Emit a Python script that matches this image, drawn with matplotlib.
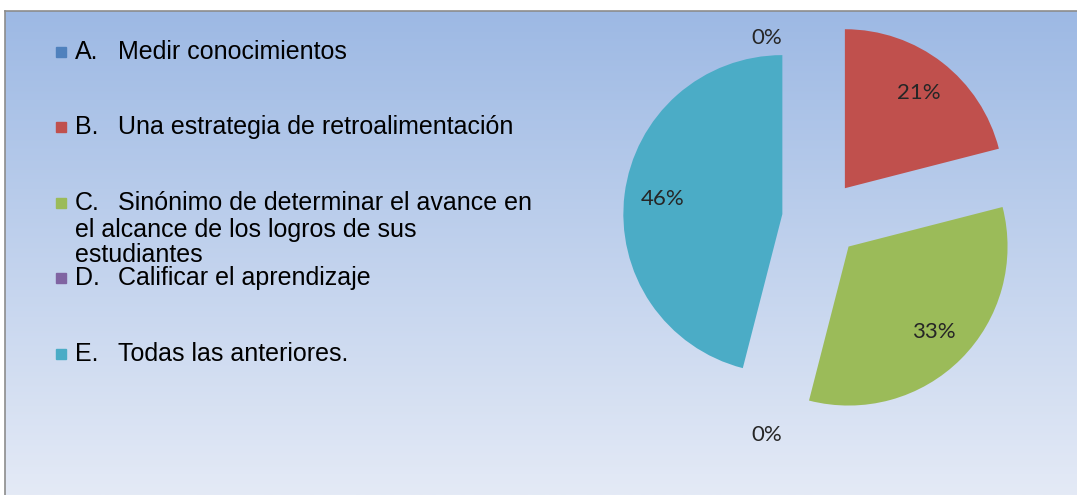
import numpy as np
import matplotlib.pyplot as plt
from matplotlib.patches import Rectangle

letters = ["A.", "B.", "C.", "D.", "E."]
answers = [
    "Medir conocimientos",
    "Una estrategia de retroalimentación",
    "Sinónimo de determinar el avance en\nel alcance de los logros de sus\nestudiantes",
    "Calificar el aprendizaje",
    "Todas las anteriores.",
]
percents = [0, 21, 33, 0, 46]
colors = ["#4f81bd", "#c0504d", "#9bbb59", "#8064a2", "#4bacc6"]

W, H = 1077, 495
fig = plt.figure(figsize=(W / 100, H / 100), dpi=100, facecolor="white")

# gradient background panel
bg = fig.add_axes([5 / W, 0, (W - 5) / W, (H - 11) / H])
grad = np.linspace(0, 1, 256).reshape(-1, 1)
top = np.array([157, 185, 228]) / 255
bot = np.array([228, 234, 246]) / 255
img = top + (bot - top) * grad[:, :, None]
bg.imshow(img, aspect="auto", extent=[0, 1, 0, 1], origin="upper")
bg.set_xticks([])
bg.set_yticks([])
for s in bg.spines.values():
    s.set_color("#8c8c8c")
    s.set_linewidth(1.2)
bg.spines["bottom"].set_visible(False)
bg.spines["right"].set_visible(False)

# pie
r_px = 159
cx, cy = 821, H - 219
xl, yl = (-1.6, 1.6), (-1.6, 1.35)
ax = fig.add_axes([(cx + xl[0] * r_px) / W, (cy + yl[0] * r_px) / H,
                   (xl[1] - xl[0]) * r_px / W, (yl[1] - yl[0]) * r_px / H])
ax.patch.set_alpha(0)
wedges, texts, autotexts = ax.pie(
    percents, colors=colors, startangle=90, counterclock=False,
    explode=[0.245] * len(percents), autopct="%d%%", pctdistance=0.76,
    wedgeprops=dict(linewidth=0),
    textprops=dict(fontsize=16, color="#262626", family="Lato"),
)
# zero-value labels sit outside the pie
zero_pos = {0: (-0.34, 1.14), 3: (-0.34, -1.36)}
for i, p in enumerate(percents):
    if p == 0:
        autotexts[i].set_position(zero_pos[i])
ax.set_xlim(*xl)
ax.set_ylim(*yl)
ax.axis("off")

# legend
x_sq, x_let, x_txt = 56, 75, 118
y0, step = 52, 75.4
fs = 18
for i, (let, ans) in enumerate(zip(letters, answers)):
    yc = H - (y0 + i * step)
    fig.patches.append(Rectangle((x_sq / W, (yc - 5) / H), 10 / W, 10 / H,
                                 transform=fig.transFigure, color=colors[i]))
    fig.text(x_let / W, yc / H, let, fontsize=fs, family="Liberation Sans",
             va="center", ha="left")
    lines = ans.split("\n")
    fig.text(x_txt / W, yc / H, lines[0], fontsize=fs, family="Liberation Sans",
             va="center", ha="left")
    for k, extra in enumerate(lines[1:]):
        fig.text(x_let / W, (yc - 27 - 25 * k) / H, extra, fontsize=fs,
                 family="Liberation Sans", va="center", ha="left")

fig.savefig("out.png", dpi=100, facecolor="white")
